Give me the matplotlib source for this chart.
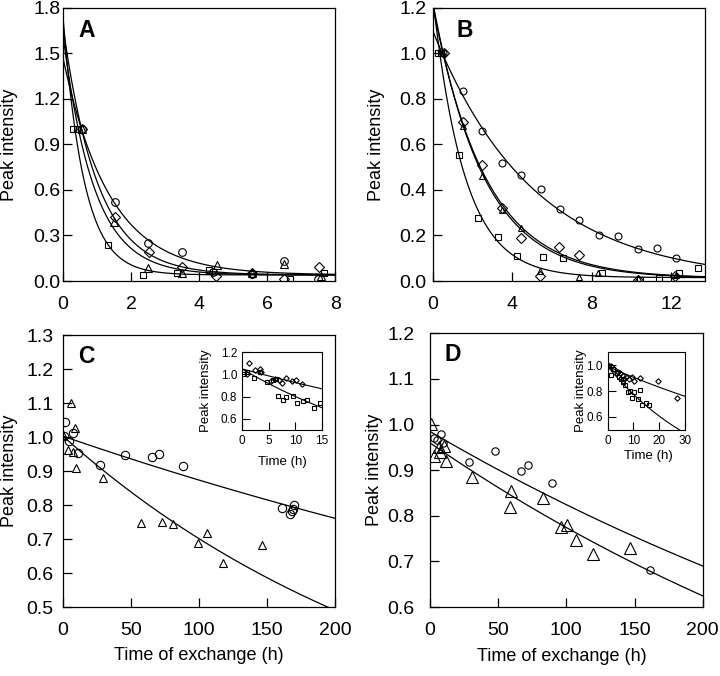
import matplotlib
matplotlib.use('Agg')
import matplotlib.pyplot as plt
import numpy as np

plt.rcParams['font.family'] = ['Liberation Sans', 'DejaVu Sans']

# ---- panel A data (time in h, normalised peak intensity)
a_sq_x = [0.3, 0.42, 1.32, 2.34, 3.36, 4.3, 5.55, 6.67, 7.66]
a_sq_y = [1.0, 1.0, 0.24, 0.04, 0.055, 0.07, 0.046, 0.01, 0.055]
a_ci_x = [0.55, 1.52, 2.5, 3.49, 4.4, 5.55, 6.5, 7.5]
a_ci_y = [1.0, 0.52, 0.25, 0.19, 0.06, 0.045, 0.13, 0.01]
a_di_x = [0.55, 1.54, 2.52, 3.5, 4.5, 5.55, 6.5, 7.52]
a_di_y = [1.0, 0.42, 0.19, 0.09, 0.03, 0.05, 0.01, 0.095]
a_tr_x = [0.55, 1.49, 2.51, 3.5, 4.52, 5.55, 6.5, 7.58]
a_tr_y = [1.0, 0.39, 0.084, 0.055, 0.106, 0.055, 0.11, 0.03]
# fitted decays: (amplitude, rate, offset)
a_fits = [(1.70, 1.62, 0.04), (1.58, 1.10, 0.04), (1.64, 0.98, 0.04), (1.43, 0.73, 0.04)]

# ---- panel B data
b_ci_x = [0.5, 1.51, 2.48, 3.49, 4.46, 5.44, 6.41, 7.38, 8.36, 9.33, 10.32, 11.3, 12.25]
b_ci_y = [1.0, 0.833, 0.66, 0.518, 0.467, 0.403, 0.315, 0.266, 0.202, 0.198, 0.139, 0.144, 0.1]
b_sq_x = [0.25, 0.42, 1.31, 2.28, 3.29, 4.26, 5.57, 6.56, 8.52, 10.45, 11.41, 12.38, 13.34]
b_sq_y = [1.0, 1.0, 0.555, 0.276, 0.195, 0.11, 0.107, 0.1, 0.034, 0.004, 0.012, 0.037, 0.056]
b_di_x = [0.59, 1.51, 2.48, 3.49, 4.46, 5.4, 6.38, 7.35, 10.34, 12.22]
b_di_y = [1.0, 0.697, 0.51, 0.32, 0.188, 0.02, 0.148, 0.114, 0.004, 0.02]
b_tr_x = [0.5, 1.51, 2.48, 3.49, 4.46, 5.4, 7.38, 8.34, 10.32, 12.25]
b_tr_y = [1.0, 0.68, 0.46, 0.31, 0.232, 0.045, 0.019, 0.034, 0.012, 0.026]
b_fits = [(1.10, 0.198, 0.0), (1.23, 0.625, 0.015), (1.215, 0.39, 0.012), (1.20, 0.375, 0.012)]

# ---- panel C data
c_ci_x = [0.7, 1.2, 4.2, 7.4, 11, 27.5, 45.9, 65.5, 70.7, 88.1, 161, 167, 168, 169, 170]
c_ci_y = [1.004, 1.046, 0.99, 1.013, 0.954, 0.918, 0.947, 0.943, 0.951, 0.914, 0.792, 0.775, 0.782, 0.79, 0.80]
c_tr_x = [0, 3.7, 6.1, 7.4, 8.6, 9.8, 29.4, 57.2, 73.1, 81.2, 98.9, 105.8, 117.8, 146]
c_tr_y = [1.006, 0.963, 1.10, 0.955, 1.028, 0.91, 0.88, 0.747, 0.75, 0.744, 0.69, 0.719, 0.63, 0.682]
c_fits = [(1.003, 0.00138, 0.0), (1.003, 0.00358, 0.0)]
# inset C
ci_di_x = [1.0, 1.3, 2.4, 3.3, 3.5, 5.5, 6.3, 7.0, 7.5, 8.3, 9.4, 10.2, 11.2]
ci_di_y = [1.0, 1.1, 1.04, 1.05, 1.02, 0.94, 0.96, 0.95, 0.92, 0.97, 0.94, 0.95, 0.91]
ci_sq_x = [0.3, 1.0, 2.3, 3.3, 4.7, 5.8, 6.4, 6.8, 7.7, 8.3, 9.5, 10.3, 11.4, 12.2, 13.5, 14.7]
ci_sq_y = [1.0, 1.02, 0.97, 1.02, 0.93, 0.95, 0.96, 0.81, 0.77, 0.80, 0.81, 0.74, 0.76, 0.77, 0.70, 0.74]
ci_fits = [(1.05, 0.0125, 0.0), (1.05, 0.027, 0.0)]

# ---- panel D data
d_ci_x = [3, 5, 8, 10, 28.8, 47.6, 66.6, 72, 89.5, 161.7]
d_ci_y = [0.97, 0.965, 0.98, 0.96, 0.917, 0.943, 0.899, 0.911, 0.872, 0.682]
d_tr_x = [1.2, 2.9, 6.6, 7.3, 10.5, 11.7, 31, 59.8, 59, 83.2, 96.3, 100.5, 106.8, 119.5, 147]
d_tr_y = [1.002, 0.931, 0.95, 0.94, 0.954, 0.92, 0.885, 0.854, 0.82, 0.84, 0.776, 0.78, 0.746, 0.717, 0.729]
d_fits = [(0.985, 0.00178, 0.0), (0.96, 0.00215, 0.0)]
# inset D
di_di_x = [0, 1.3, 2.6, 3.9, 4.8, 5.9, 6.5, 7.2, 8.2, 9.5, 10.4, 12.6, 19.6, 27]
di_di_y = [1.0, 0.99, 0.97, 0.95, 0.94, 0.92, 0.89, 0.91, 0.89, 0.91, 0.875, 0.90, 0.88, 0.75]
di_sq_x = [0.4, 1.3, 2, 3.5, 4.6, 5.2, 6.1, 6.9, 7.8, 8.7, 9.5, 10.4, 11.7, 12.6, 13.4, 15, 16]
di_sq_y = [0.99, 0.925, 0.97, 0.94, 0.91, 0.89, 0.87, 0.85, 0.79, 0.80, 0.75, 0.79, 0.74, 0.81, 0.695, 0.71, 0.69]
di_fits = [(0.99, 0.0088, 0.0), (0.99, 0.0244, 0.0)]


def draw_fits(ax, fits, xmax, lw=0.9):
    t = np.linspace(0, xmax, 300)
    for amp, k, off in fits:
        ax.plot(t, amp * np.exp(-k * t) + off, c='k', lw=lw, zorder=2)


def pts(ax, x, y, marker, ms):
    ax.plot(x, y, ls='none', marker=marker, ms=ms, mfc='none', mec='k', mew=0.8, zorder=3)


def style(ax, xlim, ylim, xticks, yticks, yfmt, ypad, letter, letter_x, letter_y):
    ax.set_xlim(xlim)
    ax.set_ylim(ylim)
    ax.set_xticks(xticks)
    ax.set_yticks(yticks)
    ax.set_yticklabels([yfmt % v for v in yticks])
    ax.tick_params(direction='in', length=6.5, width=0.9, labelsize=14)
    ax.tick_params(axis='x', pad=11)
    ax.tick_params(axis='y', pad=ypad)
    for s in ax.spines.values():
        s.set_linewidth(0.9)
    ax.set_ylabel('Peak intensity', fontsize=13)
    ax.text(letter_x, letter_y, letter, transform=ax.transAxes, fontsize=16.5,
            fontweight='bold', ha='left', va='center')


def style_inset(ax, xlim, ylim, xticks, yticks, ylab_x, xlab_x, xlab_y):
    ax.set_xlim(xlim)
    ax.set_ylim(ylim)
    ax.set_xticks(xticks)
    ax.set_yticks(yticks)
    ax.set_yticklabels(['%.1f' % v for v in yticks])
    ax.tick_params(direction='in', length=6, width=0.8, labelsize=8.5, pad=3.5)
    for s in ax.spines.values():
        s.set_linewidth(0.8)
    ax.set_ylabel('Peak intensity', fontsize=9.5)
    ax.yaxis.set_label_coords(ylab_x, 0.5)
    ax.set_xlabel('Time (h)', fontsize=9.5)
    ax.xaxis.set_label_coords(xlab_x, xlab_y)


fig = plt.figure(figsize=(7.2, 6.76), dpi=100)
axA = fig.add_axes([0.0875, 0.5843, 0.378, 0.404])
axB = fig.add_axes([0.601, 0.5843, 0.378, 0.404])
axC = fig.add_axes([0.0875, 0.102, 0.378, 0.402])
axD = fig.add_axes([0.597, 0.102, 0.379, 0.405])

# A
draw_fits(axA, a_fits, 8)
pts(axA, a_sq_x, a_sq_y, 's', 5)
pts(axA, a_ci_x, a_ci_y, 'o', 5.5)
pts(axA, a_di_x, a_di_y, 'D', 4.8)
pts(axA, a_tr_x, a_tr_y, '^', 5.5)
style(axA, (0, 8), (0, 1.8), [0, 2, 4, 6, 8], [0, 0.3, 0.6, 0.9, 1.2, 1.5, 1.8], '%.1f', 2,
      'A', 0.055, 0.916)
axA.yaxis.set_label_coords(-0.165, 0.5)

# B
draw_fits(axB, b_fits, 13.7)
pts(axB, b_ci_x, b_ci_y, 'o', 5)
pts(axB, b_sq_x, b_sq_y, 's', 5)
pts(axB, b_di_x, b_di_y, 'D', 4.8)
pts(axB, b_tr_x, b_tr_y, '^', 5)
style(axB, (0, 13.7), (0, 1.2), [0, 4, 8, 12], [0, 0.2, 0.4, 0.6, 0.8, 1.0, 1.2], '%.1f', 4.3,
      'B', 0.088, 0.916)
axB.yaxis.set_label_coords(-0.176, 0.5)

# C
draw_fits(axC, c_fits, 200)
pts(axC, c_ci_x, c_ci_y, 'o', 6)
pts(axC, c_tr_x, c_tr_y, '^', 6)
style(axC, (0, 200), (0.5, 1.3), [0, 50, 100, 150, 200],
      [0.5, 0.6, 0.7, 0.8, 0.9, 1.0, 1.1, 1.2, 1.3], '%.1f', 7, 'C', 0.055, 0.923)
axC.yaxis.set_label_coords(-0.165, 0.5)
axC.set_xlabel('Time of exchange (h)', fontsize=13)
axC.xaxis.set_label_coords(0.5, -0.148)

insC = fig.add_axes([0.336, 0.364, 0.111, 0.115])
draw_fits(insC, ci_fits, 15, lw=0.8)
pts(insC, ci_di_x, ci_di_y, 'D', 2.8)
pts(insC, ci_sq_x, ci_sq_y, 's', 3)
style_inset(insC, (0, 15), (0.5, 1.2), [0, 5, 10, 15], [0.6, 0.8, 1.0, 1.2], -0.375, 0.5, -0.33)

# D
draw_fits(axD, d_fits, 200)
pts(axD, d_ci_x, d_ci_y, 'o', 5.3)
pts(axD, d_tr_x, d_tr_y, '^', 8.5)
style(axD, (0, 200), (0.6, 1.2), [0, 50, 100, 150, 200],
      [0.6, 0.7, 0.8, 0.9, 1.0, 1.1, 1.2], '%.1f', 11, 'D', 0.055, 0.923)
axD.yaxis.set_label_coords(-0.172, 0.5)
axD.set_xlabel('Time of exchange (h)', fontsize=13)
axD.xaxis.set_label_coords(0.484, -0.148)

insD = fig.add_axes([0.844, 0.364, 0.107, 0.115])
draw_fits(insD, di_fits, 30, lw=0.8)
pts(insD, di_di_x, di_di_y, 'D', 2.8)
pts(insD, di_sq_x, di_sq_y, 's', 3)
style_inset(insD, (0, 30), (0.5, 1.1), [0, 10, 20, 30], [0.6, 0.8, 1.0], -0.27, 0.53, -0.26)

fig.savefig('out.png', dpi=100)
